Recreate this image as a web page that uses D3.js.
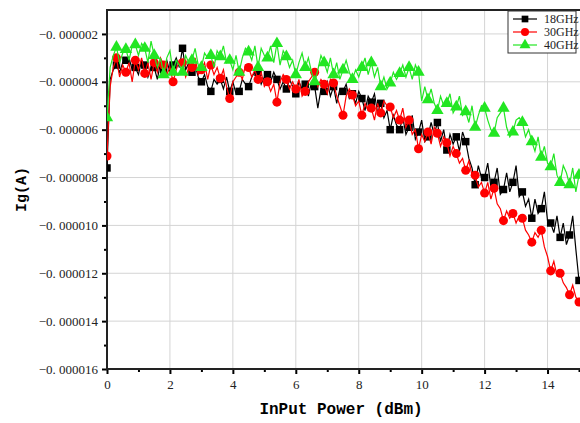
<!DOCTYPE html>
<html>
<head>
<meta charset="utf-8">
<script src="https://cdn.jsdelivr.net/npm/d3@7"></script>
<style>
  body { margin: 0; background: #fff; }
  svg { display: block; }
</style>
</head>
<body>
<div id="chart"></div>
<script>
// input power step (dBm) between samples, values in microamps
const step = 0.1;
const names = ['18GHz', '30GHz', '40GHz'];
const colors = ['#000000', '#ff0000', '#22e622'];
const markEvery = 3;

const ig18 = [
  -7.6, -3.9, -3.5, -3.3, -3.6, -3.2, -3.1, -3.0, -3.5, -3.4, -3.7, -3.1,
  -3.3, -3.8, -3.4, -3.4, -3.9, -3.2, -3.5, -3.1, -3.6, -3.3, -3.0, -3.4,
  -2.6, -3.5, -3.2, -3.6, -3.3, -3.8, -4.0, -3.7, -4.2, -4.4, -3.9, -4.1,
  -3.9, -4.3, -3.8, -4.4, -4.0, -4.5, -4.4, -3.9, -4.1, -4.2, -3.8, -3.6,
  -3.6, -4.1, -3.8, -3.7, -4.0, -3.6, -3.9, -4.3, -4.0, -4.3, -3.9, -4.2,
  -4.5, -4.0, -4.3, -4.1, -4.6, -4.0, -4.2, -5.1, -4.3, -4.4, -4.0, -4.6,
  -4.2, -4.9, -4.3, -4.4, -4.1, -4.7, -4.5, -4.9, -4.4, -4.7, -5.2, -4.6,
  -4.85, -4.5, -5.3, -4.9, -5.5, -5.2, -6.0, -5.4, -5.8, -6.0, -5.5, -6.2,
  -5.9, -5.4, -6.4, -6.1, -5.6, -6.5, -6.3, -5.7, -6.2, -5.7, -6.5, -6.0,
  -6.85, -6.2, -6.6, -6.3, -6.9, -6.1, -6.5, -7.2, -7.6, -8.3, -7.5, -8.0,
  -8.0, -7.4, -8.4, -8.2, -7.6, -8.7, -8.5, -7.8, -8.6, -8.2, -7.5, -8.8,
  -8.6, -9.2, -8.9, -9.7, -8.9, -9.5, -9.3, -8.6, -9.8, -9.9, -10.3, -9.6,
  -10.5, -9.9, -10.8, -10.4, -9.6, -11.0, -12.3
];

const ig30 = [
  -7.1, -4.2, -3.4, -3.0, -3.8, -3.3, -3.6, -3.2, -4.0, -3.1, -3.5, -3.0,
  -3.65, -3.2, -3.9, -3.2, -3.6, -3.0, -3.3, -3.7, -3.4, -4.0, -3.5, -3.1,
  -3.2, -3.8, -3.4, -3.4, -3.0, -3.7, -3.5, -3.2, -3.9, -3.3, -3.7, -3.4,
  -3.85, -3.5, -4.2, -4.7, -4.0, -3.8, -3.6, -3.9, -3.3, -3.4, -3.8, -3.5,
  -3.9, -3.6, -4.2, -4.0, -4.4, -4.1, -4.85, -4.0, -3.7, -3.9, -4.3, -4.0,
  -4.3, -3.9, -4.6, -4.4, -4.0, -3.8, -3.6, -4.2, -3.9, -4.1, -4.5, -3.9,
  -4.05, -4.6, -5.0, -5.4, -4.6, -4.3, -4.55, -5.0, -4.8, -5.4, -4.9, -5.2,
  -5.1, -5.6, -4.9, -5.3, -4.8, -5.0, -5.05, -5.5, -5.2, -5.6, -5.1, -5.9,
  -5.6, -6.2, -6.0, -6.8, -6.2, -6.5, -6.1, -6.6, -5.9, -6.15, -6.7, -6.3,
  -6.55, -7.1, -6.7, -7.0, -7.4, -7.2, -7.7, -7.3, -7.9, -7.9, -8.4, -8.2,
  -8.65, -8.2, -8.9, -8.45, -9.1, -9.3, -9.8, -9.4, -9.7, -9.5, -9.9, -9.6,
  -9.7, -10.2, -10.4, -10.7, -10.3, -10.5, -10.2, -10.9, -11.3, -11.9, -11.5, -12.1,
  -12.0, -12.4, -12.6, -12.9, -12.5, -13.0, -13.2
];

const ig40 = [
  -5.5, -3.4, -2.9, -2.55, -3.2, -2.8, -2.65, -3.1, -2.5, -2.45, -2.9, -2.4,
  -2.6, -3.2, -2.3, -2.9, -3.4, -3.0, -3.7, -3.0, -2.7, -3.6, -3.1, -3.3,
  -3.6, -2.9, -3.2, -3.1, -2.6, -3.3, -3.4, -2.8, -3.0, -2.9, -3.4, -2.7,
  -2.95, -2.5, -3.2, -3.1, -3.5, -2.9, -3.6, -3.0, -2.6, -2.75, -3.1, -2.5,
  -3.4, -2.6, -2.9, -3.0, -2.5, -3.2, -2.4, -3.3, -2.7, -2.95, -3.4, -3.1,
  -3.7, -3.2, -2.8, -3.4, -3.0, -3.6, -4.0, -3.5, -2.9, -3.2, -3.6, -3.0,
  -3.7, -3.2, -3.9, -3.5, -3.1, -3.6, -3.9, -3.5, -3.8, -3.4, -3.0, -3.7,
  -3.2, -3.8, -3.4, -4.2, -3.8, -4.3, -4.05, -3.6, -3.9, -3.65, -3.3, -3.8,
  -3.4, -3.9, -3.3, -3.6, -4.8, -4.2, -4.75, -4.3, -4.9, -5.2, -4.6, -5.0,
  -4.9, -4.5, -5.3, -5.05, -4.6, -5.4, -5.25, -5.7, -5.0, -5.9, -5.4, -5.0,
  -5.1, -5.6, -6.0, -6.15, -5.5, -5.3, -5.1, -5.9, -6.3, -6.1, -5.6, -5.5,
  -5.7, -6.3, -6.0, -6.5, -6.9, -6.3, -7.15, -6.7, -7.4, -7.55, -7.0, -7.9,
  -8.2, -7.5, -7.8, -8.3, -7.6, -8.6, -7.9
];

const yTicks = [-16e-6, -14e-6, -12e-6, -10e-6, -8e-6, -6e-6, -4e-6, -2e-6];
const xTicks = [0, 2, 4, 6, 8, 10, 12, 14];

const width = 580, height = 423;
const margin = { top: 10, left: 107, bottom: 54 };

const x = d3.scaleLinear().domain([0, 15]).range([margin.left, 579]);
const y = d3.scaleLinear().domain([-16e-6, -1e-6]).range([height - margin.bottom, margin.top]);

const svg = d3.select('#chart').append('svg')
  .attr('width', width)
  .attr('height', height);

svg.append('defs').append('clipPath').attr('id', 'plot')
  .append('rect')
  .attr('x', margin.left).attr('y', margin.top)
  .attr('width', width - margin.left).attr('height', y.range()[0] - margin.top);

// grid
const grid = svg.append('g').attr('stroke', '#d4d4d4').attr('stroke-width', 1);
grid.selectAll('.gx').data(xTicks.slice(1)).join('line')
  .attr('x1', d => x(d)).attr('x2', d => x(d))
  .attr('y1', margin.top).attr('y2', y.range()[0]);
grid.selectAll('.gy').data(yTicks.slice(1)).join('line')
  .attr('x1', margin.left).attr('x2', width)
  .attr('y1', d => y(d)).attr('y2', d => y(d));

// axes
const fmt = d => '\u22120. ' + d3.format('06d')(Math.round(-d * 1e6));
const yAxis = d3.axisLeft(y).tickValues(yTicks).tickFormat(fmt).tickSize(5).tickPadding(4);
const yMinor = d3.axisLeft(y).tickValues(d3.range(-15e-6, -1e-6, 2e-6)).tickFormat('').tickSize(3);
const xAxis = d3.axisBottom(x).tickValues(xTicks).tickSize(5).tickPadding(6);
const xMinor = d3.axisBottom(x).tickValues(d3.range(1, 16, 2)).tickFormat('').tickSize(3);

function styleAxis(g) {
  g.select('.domain').remove();
  g.selectAll('line').attr('stroke', '#000').attr('stroke-width', 2);
  g.selectAll('text')
    .attr('fill', '#222')
    .style('font-family', '"Liberation Serif", "DejaVu Serif", serif')
    .style('font-size', '13px');
}

svg.append('g').attr('transform', `translate(${margin.left},0)`).call(yAxis).call(styleAxis);
svg.append('g').attr('transform', `translate(${margin.left},0)`).call(yMinor).call(styleAxis);
svg.append('g').attr('transform', `translate(0,${y.range()[0]})`).call(xAxis).call(styleAxis);
svg.append('g').attr('transform', `translate(0,${y.range()[0]})`).call(xMinor).call(styleAxis);

// frame
svg.append('path')
  .attr('d', `M${width + 5},${margin.top}H${margin.left}V${y.range()[0]}H${width + 5}`)
  .attr('fill', 'none').attr('stroke', '#222').attr('stroke-width', 2);

// series
const series = [ig18, ig30, ig40];
const line = d3.line().x((d, i) => x(i * step)).y(d => y(d * 1e-6));
const sym = [d3.symbolSquare, d3.symbolCircle, d3.symbolTriangle];
const symSize = [56, 64, 66];

const plot = svg.append('g').attr('clip-path', 'url(#plot)');
series.forEach((vals, k) => {
  plot.append('path')
    .datum(vals)
    .attr('d', line)
    .attr('fill', 'none')
    .attr('stroke', colors[k])
    .attr('stroke-width', 1.2);
  plot.selectAll('.m' + k)
    .data(vals.map((v, i) => [i * step, v]).filter((d, i) => i % markEvery === 0))
    .join('path')
    .attr('transform', d => `translate(${x(d[0])},${y(d[1] * 1e-6)})`)
    .attr('d', d3.symbol(sym[k], symSize[k]))
    .attr('fill', colors[k]);
});

// axis titles
svg.append('text')
  .attr('transform', `translate(26,${y(-8.5e-6)}) rotate(-90)`)
  .attr('text-anchor', 'middle')
  .style('font-family', '"Liberation Mono", "DejaVu Sans Mono", monospace')
  .style('font-weight', 'bold')
  .style('font-size', '15px')
  .text('Ig(A)');

svg.append('text')
  .attr('x', 341).attr('y', 414)
  .attr('text-anchor', 'middle')
  .style('font-family', '"Liberation Mono", "DejaVu Sans Mono", monospace')
  .style('font-weight', 'bold')
  .style('font-size', '16px')
  .text('InPut Power (dBm)');

// legend
const leg = svg.append('g').attr('transform', 'translate(508,11)');
leg.append('rect')
  .attr('width', 68).attr('height', 42)
  .attr('fill', '#fff').attr('stroke', '#333').attr('stroke-width', 1);
names.forEach((n, k) => {
  const ly = 8 + k * 13;
  leg.append('line')
    .attr('x1', 5).attr('x2', 29).attr('y1', ly).attr('y2', ly)
    .attr('stroke', colors[k]).attr('stroke-width', 1.2);
  leg.append('path')
    .attr('transform', `translate(17,${ly})`)
    .attr('d', d3.symbol(sym[k], symSize[k] * 0.8))
    .attr('fill', colors[k]);
  leg.append('text')
    .attr('x', 36).attr('y', ly + 4)
    .style('font-family', '"Liberation Serif", "DejaVu Serif", serif')
    .style('font-size', '12px')
    .attr('fill', '#222')
    .text(n);
});
</script>
</body>
</html>
